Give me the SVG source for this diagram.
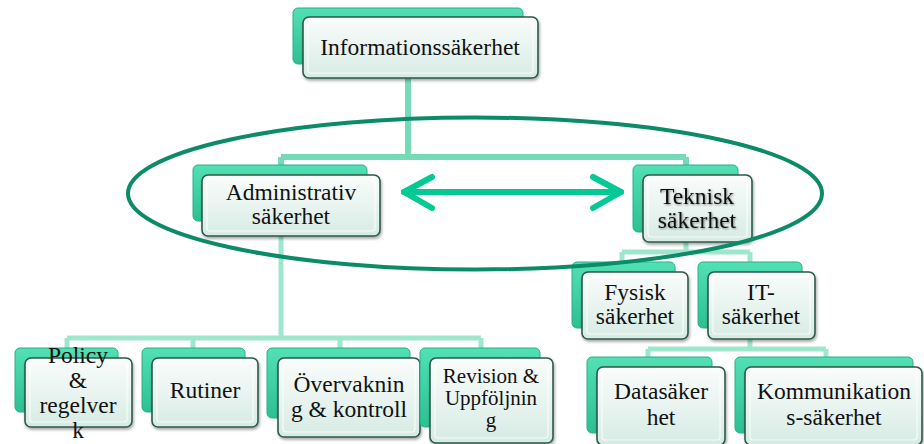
<svg xmlns="http://www.w3.org/2000/svg" width="924" height="444" viewBox="0 0 924 444">
<defs>
<linearGradient id="gBack" x1="0" y1="0" x2="0" y2="1">
<stop offset="0" stop-color="#52e0b4"/>
<stop offset="1" stop-color="#2cc093"/>
</linearGradient>
<linearGradient id="gFront" x1="0" y1="0" x2="0" y2="1">
<stop offset="0" stop-color="#f9fcfb"/>
<stop offset="0.5" stop-color="#e9f4f0"/>
<stop offset="1" stop-color="#d6ebe3"/>
</linearGradient>
<filter id="sh" x="-10%" y="-10%" width="130%" height="140%">
<feDropShadow dx="1" dy="2" stdDeviation="1.5" flood-color="#000" flood-opacity="0.35"/>
</filter>
<filter id="tsh" x="-10%" y="-10%" width="130%" height="140%">
<feDropShadow dx="1" dy="1" stdDeviation="1" flood-color="#000" flood-opacity="0.45"/>
</filter>
</defs>
<style>
.back{fill:url(#gBack);stroke:#2aae85;stroke-width:1}
.front{fill:url(#gFront);stroke:#2b5a4b;stroke-width:1.6;filter:url(#sh)}
.bevel{fill:none;stroke:#ffffff;stroke-opacity:0.75;stroke-width:1.2}
text{font-family:'Liberation Serif','DejaVu Serif',serif;font-size:23.5px;fill:#111;text-anchor:middle}
.ts{font-size:21px}
.c1{fill:none;stroke:#74dbb6;stroke-width:6}
.c2{fill:none;stroke:#9fe7cc;stroke-width:5}
</style>
<rect width="924" height="444" fill="#ffffff"/>
<g id="connectors">
<path class="c1" d="M408 78 V157 M281 157 H686 M281 157 V166 M686 157 V166"/>
<path class="c2" d="M281 221 V338 M67 338 H481 M67 338 V349 M193 338 V349 M340 338 V349 M481 338 V349"/>
<path class="c2" d="M686 232 V252 M622 252 H750 M622 252 V263 M750 252 V263"/>
<path class="c2" d="M750 328 V349 M648 349 H826 M648 349 V358 M826 349 V358"/>
</g>
<g id="n-info">
<rect class="back" x="293" y="8" width="230" height="56" rx="5"/>
<rect class="front" x="303" y="17" width="235" height="61" rx="6"/>
<rect class="bevel" x="308" y="22" width="225" height="51" rx="3"/>
<text x="420" y="55">Informationssäkerhet</text>
</g>
<g id="n-admin">
<rect class="back" x="193" y="165" width="174" height="56" rx="5"/>
<rect class="front" x="202" y="175" width="178" height="61" rx="6"/>
<rect class="bevel" x="207" y="180" width="168" height="51" rx="3"/>
<text x="291" y="200">Administrativ</text>
<text x="291" y="224">säkerhet</text>
</g>
<g id="n-teknisk">
<rect class="back" x="633" y="165" width="105" height="67" rx="5"/>
<rect class="front" x="643" y="175" width="109" height="67" rx="6"/>
<rect class="bevel" x="648" y="180" width="99" height="57" rx="3"/>
<g filter="url(#tsh)">
<text x="697" y="204">Teknisk</text>
<text x="697" y="228">säkerhet</text>
</g>
</g>
<g id="n-fysisk">
<rect class="back" x="572" y="262" width="103" height="66" rx="5"/>
<rect class="front" x="582" y="272" width="106" height="67" rx="6"/>
<rect class="bevel" x="587" y="277" width="96" height="57" rx="3"/>
<text x="635" y="300">Fysisk</text>
<text x="635" y="324">säkerhet</text>
</g>
<g id="n-it">
<rect class="back" x="698" y="262" width="104" height="66" rx="5"/>
<rect class="front" x="708" y="272" width="107" height="67" rx="6"/>
<rect class="bevel" x="713" y="277" width="97" height="57" rx="3"/>
<text x="761" y="300">IT-</text>
<text x="761" y="324">säkerhet</text>
</g>
<g id="n-data">
<rect class="back" x="587" y="357" width="125" height="76" rx="5"/>
<rect class="front" x="597" y="367" width="128" height="78" rx="6"/>
<rect class="bevel" x="602" y="372" width="118" height="68" rx="3"/>
<text x="661" y="399">Datasäker</text>
<text x="661" y="425">het</text>
</g>
<g id="n-komm">
<rect class="back" x="735" y="357" width="178" height="76" rx="5"/>
<rect class="front" x="745" y="367" width="177" height="78" rx="6"/>
<rect class="bevel" x="750" y="372" width="167" height="68" rx="3"/>
<text x="834" y="399">Kommunikation</text>
<text x="834" y="425">s-säkerhet</text>
</g>
<g id="n-policy">
<rect class="back" x="15" y="348" width="103" height="64" rx="5"/>
<rect class="front" x="25" y="358" width="107" height="69" rx="6"/>
<rect class="bevel" x="30" y="363" width="97" height="59" rx="3"/>
<text x="78" y="363">Policy</text>
<text x="78" y="388">&amp;</text>
<text x="78" y="413">regelver</text>
<text x="78" y="438">k</text>
</g>
<g id="n-rutiner">
<rect class="back" x="142" y="348" width="103" height="64" rx="5"/>
<rect class="front" x="152" y="358" width="106" height="69" rx="6"/>
<rect class="bevel" x="157" y="363" width="96" height="59" rx="3"/>
<text x="205" y="398">Rutiner</text>
</g>
<g id="n-overv">
<rect class="back" x="267" y="348" width="143" height="70" rx="5"/>
<rect class="front" x="278" y="358" width="142" height="79" rx="6"/>
<rect class="bevel" x="283" y="363" width="132" height="69" rx="3"/>
<text x="349" y="392">Övervaknin</text>
<text x="349" y="417">g &amp; kontroll</text>
</g>
<g id="n-revision">
<rect class="back" x="420" y="348" width="120" height="79" rx="5"/>
<rect class="front" x="430" y="358" width="123" height="85" rx="6"/>
<rect class="bevel" x="435" y="363" width="113" height="75" rx="3"/>
<text class="ts" x="491" y="383">Revision &amp;</text>
<text class="ts" x="491" y="405">Uppföljnin</text>
<text class="ts" x="491" y="427">g</text>
</g>
<g id="overlay">
<ellipse cx="475" cy="193.5" rx="347" ry="76" fill="none" stroke="#0b8b67" stroke-width="4"/>
<g fill="none" stroke="#05c995" stroke-width="6" stroke-linecap="round" stroke-linejoin="round">
<path d="M404 192 H621"/>
<path d="M432 177 L404 192 L432 208"/>
<path d="M593 177 L621 192 L593 208"/>
</g>
</g>
</svg>
